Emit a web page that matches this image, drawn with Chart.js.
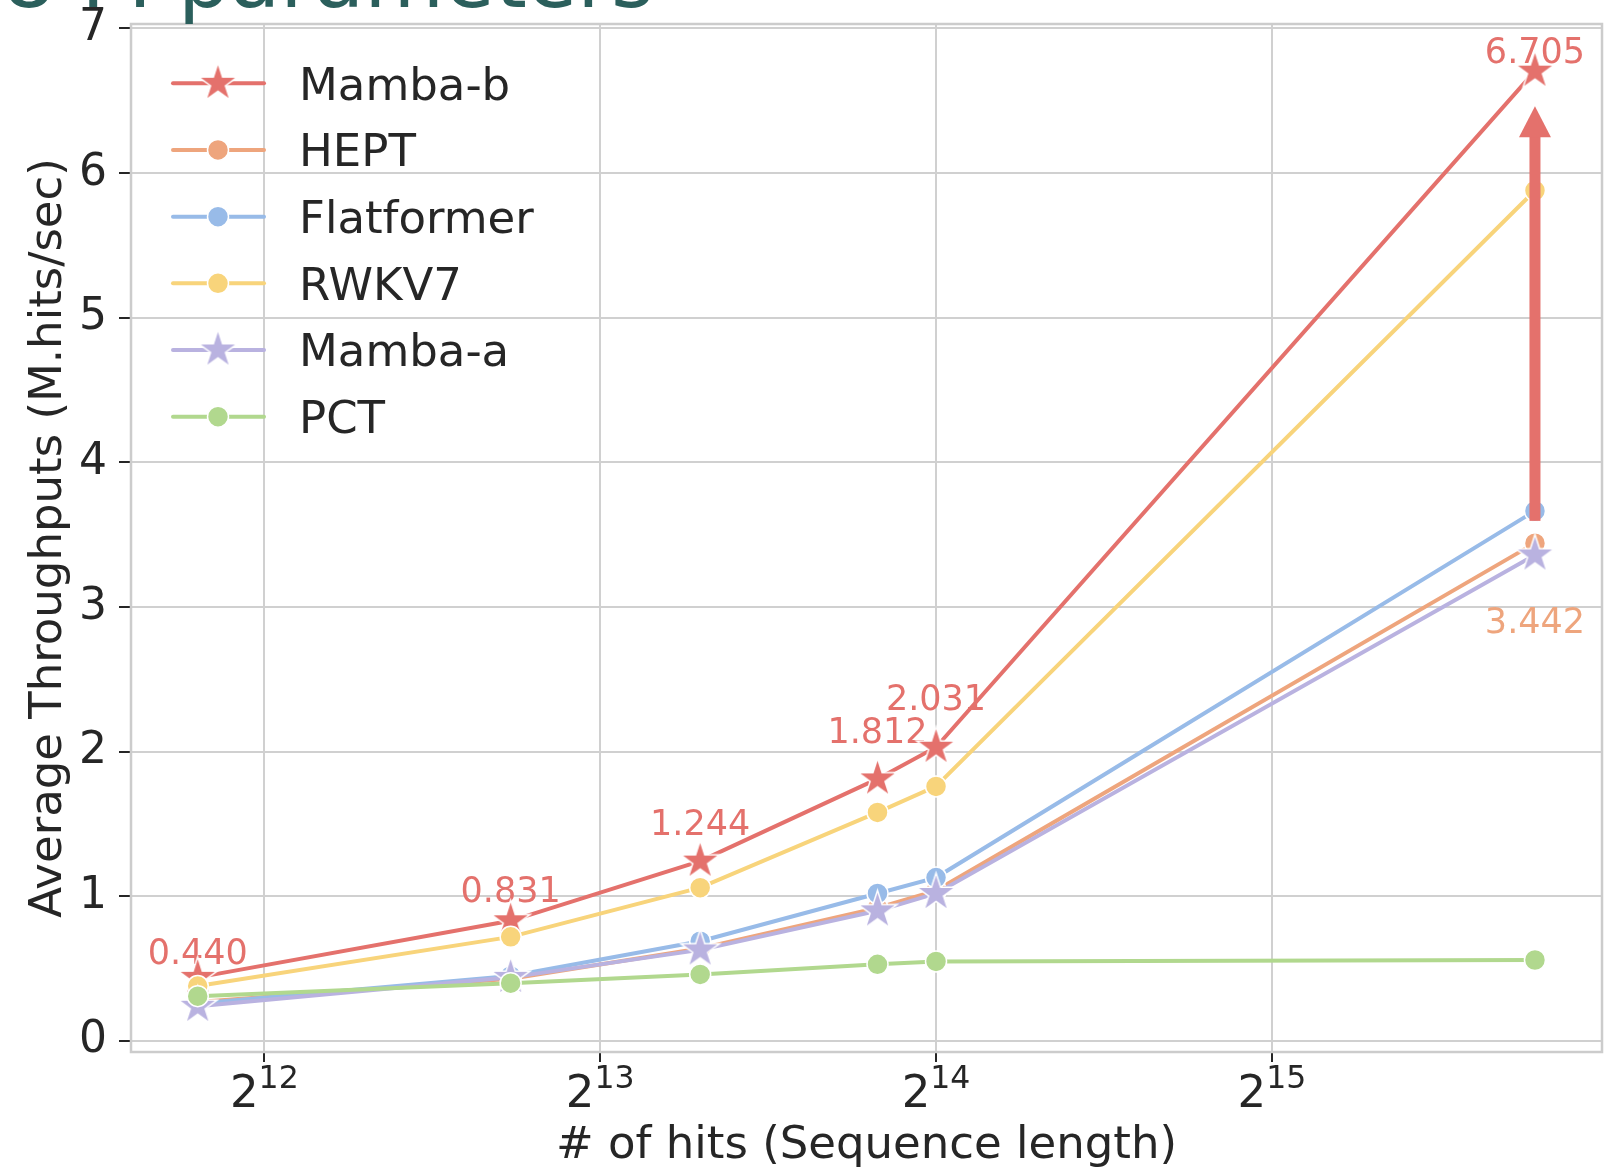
<!DOCTYPE html>
<html>
<head>
<meta charset="utf-8">
<script src="https://cdn.jsdelivr.net/npm/chart.js@4.4.1/dist/chart.umd.min.js"></script>
<style>
  html, body { margin: 0; padding: 0; background: #fff; }
  #wrap { width: 1613px; height: 1170px; }
</style>
</head>
<body>
<div id="wrap"><canvas id="chart" width="1613" height="1170"></canvas></div>
<script>
// sequence length (hits) for each benchmark point
const hits = [3570, 6810, 10070, 14520, 16384, 56400];
const xTicks = [4096, 8192, 16384, 32768];
const yTicks = [0, 1, 2, 3, 4, 5, 6, 7];

// average throughput in M.hits/sec
const mambaB     = [0.440, 0.831, 1.244, 1.812, 2.031, 6.705];
const hept       = [0.27, 0.43, 0.64, 0.92, 1.04, 3.442];
const flatformer = [0.26, 0.45, 0.69, 1.02, 1.13, 3.665];
const rwkv7      = [0.38, 0.72, 1.06, 1.58, 1.76, 5.88];
const mambaA     = [0.24, 0.44, 0.63, 0.90, 1.02, 3.36];
const pct        = [0.31, 0.40, 0.46, 0.53, 0.55, 0.56];

const seriesNames = ['Mamba-b', 'HEPT', 'Flatformer', 'RWKV7', 'Mamba-a', 'PCT'];
const seriesData = [mambaB, hept, flatformer, rwkv7, mambaA, pct];

const FONT = '"DejaVu Sans", "Liberation Sans", sans-serif';
const INK = '#262626';
const GRID = '#d0d0d0';

const styles = [
    { color: '#e4716c', marker: 'star' },
    { color: '#eea57d', marker: 'circle' },
    { color: '#98bbe8', marker: 'circle' },
    { color: '#f8d47b', marker: 'circle' },
    { color: '#b9b2e0', marker: 'star' },
    { color: '#b1d88e', marker: 'circle' }
];

// value labels: pixel offset of the text baseline from the point
const mambaBLabelDy = [-13, -19, -26, -36, -37, -8];
const heptLabelDy = 90;

// filled five-point star with a thin white edge, used as pointStyle
function makeStar(color, R) {
    const size = Math.ceil(2 * R + 6);
    const c = document.createElement('canvas');
    c.width = c.height = size;
    const g = c.getContext('2d');
    const cx = size / 2, cy = size / 2, r = R * 0.381966;
    g.beginPath();
    for (let i = 0; i < 10; i++) {
        const rad = i % 2 ? r : R;
        const a = -Math.PI / 2 + i * Math.PI / 5;
        const px = cx + rad * Math.cos(a), py = cy + rad * Math.sin(a);
        if (i === 0) g.moveTo(px, py); else g.lineTo(px, py);
    }
    g.closePath();
    g.fillStyle = color;
    g.fill();
    g.strokeStyle = '#fff';
    g.lineWidth = 1.5;
    g.stroke();
    return c;
}

const starImgs = styles.map(s => s.marker === 'star' ? makeStar(s.color, 20.5) : null);

const datasets = seriesNames.map((name, i) => ({
    label: name,
    data: hits.map((x, k) => ({ x: x, y: seriesData[i][k] })),
    borderColor: styles[i].color,
    backgroundColor: styles[i].color,
    borderWidth: 4,
    tension: 0,
    pointStyle: starImgs[i] || 'circle',
    pointRadius: 10.5,
    pointBorderColor: '#fff',
    pointBorderWidth: 1.5,
    pointBackgroundColor: styles[i].color,
    order: seriesNames.length - i,
    clip: false
}));

const decorations = {
    id: 'decorations',
    beforeDatasetsDraw(chart) {
        const ctx = chart.ctx, xs = chart.scales.x, ys = chart.scales.y;
        ctx.save();
        ctx.font = '35px ' + FONT;
        ctx.textAlign = 'center';
        ctx.textBaseline = 'alphabetic';
        ctx.fillStyle = styles[0].color;
        mambaB.forEach((v, k) => {
            ctx.fillText(v.toFixed(3), xs.getPixelForValue(hits[k]), ys.getPixelForValue(v) + mambaBLabelDy[k]);
        });
        const last = hits.length - 1;
        ctx.fillStyle = styles[1].color;
        ctx.fillText(hept[last].toFixed(3), xs.getPixelForValue(hits[last]), ys.getPixelForValue(hept[last]) + heptLabelDy);
        ctx.restore();
    },
    afterDatasetsDraw(chart) {
        // speed-up arrow from Flatformer up to Mamba-b at the longest sequence
        const ctx = chart.ctx, xs = chart.scales.x, ys = chart.scales.y;
        const last = hits.length - 1;
        const ax = xs.getPixelForValue(hits[last]);
        const yBottom = ys.getPixelForValue(flatformer[last]) + 10;
        const yTip = ys.getPixelForValue(mambaB[last]) + 35;
        const headLen = 31, headHalf = 16, shaftHalf = 5.5;
        ctx.save();
        ctx.fillStyle = styles[0].color;
        ctx.fillRect(ax - shaftHalf, yTip + headLen - 1, shaftHalf * 2, yBottom - yTip - headLen + 1);
        ctx.beginPath();
        ctx.moveTo(ax, yTip);
        ctx.lineTo(ax + headHalf, yTip + headLen);
        ctx.lineTo(ax - headHalf, yTip + headLen);
        ctx.closePath();
        ctx.fill();
        ctx.restore();
    },
    afterDraw(chart) {
        const ctx = chart.ctx, xs = chart.scales.x, area = chart.chartArea;
        ctx.save();

        // plot frame
        ctx.strokeStyle = '#cccccc';
        ctx.lineWidth = 2.5;
        ctx.strokeRect(area.left, area.top, area.right - area.left, area.bottom - area.top);

        // x tick labels as powers of two
        ctx.fillStyle = INK;
        ctx.textAlign = 'left';
        ctx.textBaseline = 'alphabetic';
        xs.ticks.forEach(t => {
            const px = xs.getPixelForValue(t.value);
            const exp = String(Math.round(Math.log2(t.value)));
            ctx.font = '45px ' + FONT;
            const w1 = ctx.measureText('2').width;
            ctx.font = '31.5px ' + FONT;
            const w2 = ctx.measureText(exp).width;
            const x0 = px - (w1 + w2) / 2;
            ctx.font = '45px ' + FONT;
            ctx.fillText('2', x0, area.bottom + 55);
            ctx.font = '31.5px ' + FONT;
            ctx.fillText(exp, x0 + w1, area.bottom + 36);
        });

        // legend
        seriesNames.forEach((name, i) => {
            const y = 83.3 + i * 66.67;
            const s = styles[i];
            ctx.strokeStyle = s.color;
            ctx.lineWidth = 4;
            ctx.lineCap = 'round';
            ctx.beginPath();
            ctx.moveTo(173, y);
            ctx.lineTo(264, y);
            ctx.stroke();
            if (starImgs[i]) {
                const img = starImgs[i];
                ctx.drawImage(img, 218 - img.width / 2, y - img.height / 2);
            } else {
                ctx.beginPath();
                ctx.arc(218, y, 10.5, 0, Math.PI * 2);
                ctx.fillStyle = s.color;
                ctx.fill();
                ctx.strokeStyle = '#fff';
                ctx.lineWidth = 1.5;
                ctx.stroke();
            }
            ctx.fillStyle = INK;
            ctx.font = '45px ' + FONT;
            ctx.fillText(name, 299, y + 16.4);
        });

        // heading, cut by the top edge of the figure
        ctx.fillStyle = '#2b5f5c';
        ctx.font = '82px ' + FONT;
        ctx.fillText('8 M parameters', 3, 7);
        ctx.restore();
    }
};

new Chart(document.getElementById('chart'), {
    type: 'line',
    data: { datasets: datasets },
    plugins: [decorations],
    options: {
        responsive: false,
        animation: false,
        events: [],
        layout: { autoPadding: false, padding: { top: 24, right: 11, left: 0, bottom: 0 } },
        plugins: { legend: { display: false }, tooltip: { enabled: false } },
        scales: {
            x: {
                type: 'logarithmic',
                min: Math.pow(2, 11.603),
                max: Math.pow(2, 15.983),
                afterBuildTicks: s => { s.ticks = xTicks.map(v => ({ value: v })); },
                afterFit: s => { s.height = 118; s.paddingLeft = 0; s.paddingRight = 0; },
                ticks: { display: false },
                grid: { color: GRID, lineWidth: 2, tickLength: 10, tickColor: INK, tickWidth: 2 },
                border: { display: false },
                title: {
                    display: true,
                    text: '# of hits (Sequence length)',
                    color: INK,
                    font: { family: FONT, size: 45, lineHeight: 1 },
                    padding: { top: 0, bottom: 1 }
                }
            },
            y: {
                type: 'linear',
                min: -0.076,
                max: 7.031,
                afterBuildTicks: s => { s.ticks = yTicks.map(v => ({ value: v })); },
                afterFit: s => { s.width = 131; s.paddingTop = 0; s.paddingBottom = 0; },
                ticks: {
                    color: INK,
                    font: { family: FONT, size: 44 },
                    padding: 12,
                    callback: v => String(v)
                },
                grid: { color: GRID, lineWidth: 2, tickLength: 12, tickColor: INK, tickWidth: 2 },
                border: { display: false },
                title: {
                    display: true,
                    text: 'Average Throughputs (M.hits/sec)',
                    color: INK,
                    font: { family: FONT, size: 45 },
                    padding: { top: 22, bottom: 0 }
                }
            }
        }
    }
});
</script>
</body>
</html>
